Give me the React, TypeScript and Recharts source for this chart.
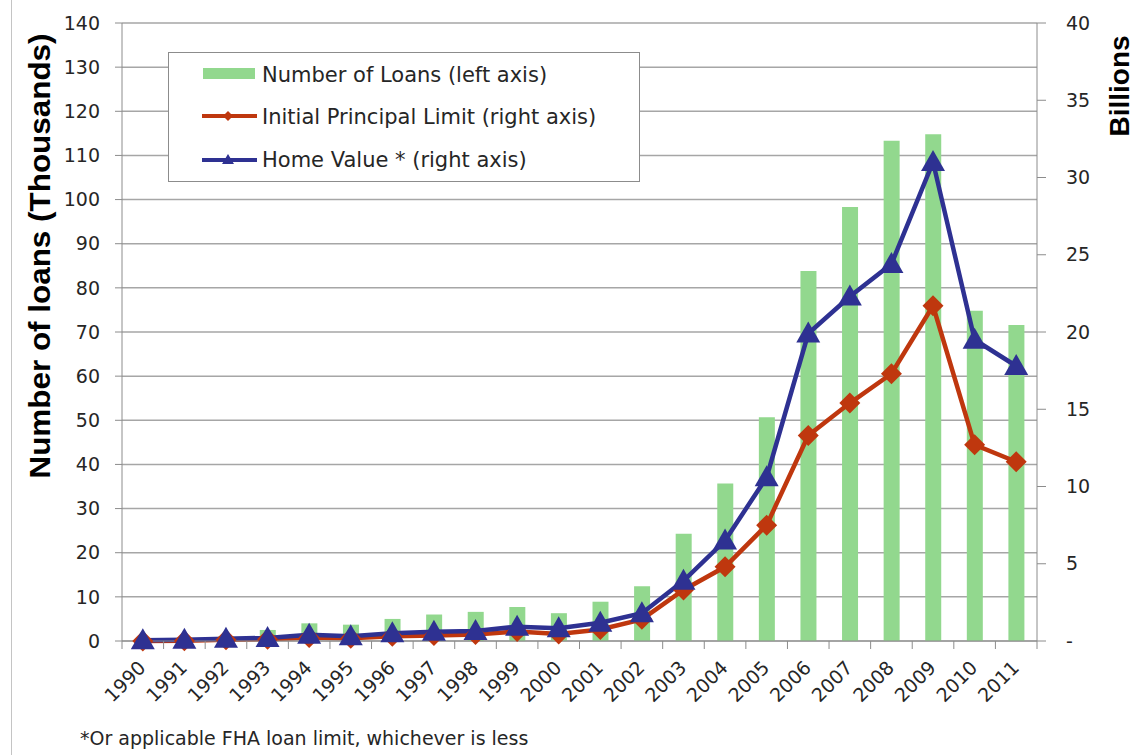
import * as React from "react"
import {
  ComposedChart, Bar, Line, XAxis, YAxis, CartesianGrid
} from "recharts"

const years = [
  "1990", "1991", "1992", "1993", "1994", "1995", "1996", "1997", "1998", "1999", "2000",
  "2001", "2002", "2003", "2004", "2005", "2006", "2007", "2008", "2009", "2010", "2011",
]
// thousands of loans (left axis)
const loans = [0.1, 0.4, 1.0, 2.5, 4.0, 3.7, 5.0, 6.0, 6.6, 7.7, 6.3, 8.9, 12.4, 24.3, 35.7, 50.7, 83.8, 98.3, 113.3, 114.8, 74.8, 71.6]
// billions (right axis)
const principal = [0.0, 0.02, 0.08, 0.12, 0.22, 0.18, 0.3, 0.35, 0.42, 0.62, 0.45, 0.75, 1.4, 3.3, 4.8, 7.5, 13.3, 15.4, 17.3, 21.7, 12.7, 11.6]
const homeValue = [0.05, 0.08, 0.15, 0.2, 0.4, 0.3, 0.5, 0.6, 0.65, 0.93, 0.82, 1.18, 1.8, 3.9, 6.5, 10.6, 19.9, 22.3, 24.4, 31.0, 19.5, 17.8]

const leftTicks = [0, 10, 20, 30, 40, 50, 60, 70, 80, 90, 100, 110, 120, 130, 140]
const rightTicks = [0, 5, 10, 15, 20, 25, 30, 35, 40]
const legendLabels = ["Number of Loans (left axis)", "Initial Principal Limit (right axis)", "Home Value * (right axis)"]

const GREEN = "#92d88e"
const RED = "#bf370e"
const BLUE = "#2e3192"
const FONT = "'DejaVu Sans', Verdana, sans-serif"
const TXT = "#262626"

const data = years.map((y, i) => ({
  year: y, loans: loans[i], principal: principal[i], homeValue: homeValue[i],
}))

function Diamond(props: any) {
  const { cx, cy } = props
  if (cx == null || cy == null) return null
  const r = 10.5
  return <polygon points={`${cx},${cy - r} ${cx + r},${cy} ${cx},${cy + r} ${cx - r},${cy}`} fill={RED} />
}

function Triangle(props: any) {
  const { cx, cy } = props
  if (cx == null || cy == null) return null
  return <polygon points={`${cx},${cy - 12} ${cx + 12},${cy + 9} ${cx - 12},${cy + 9}`} fill={BLUE} />
}

function YearTick(props: any) {
  const { x, y, payload, index } = props
  const off = payload.offset || 20.8
  return (
    <g>
      <line x1={x - off} x2={x - off} y1={y} y2={y + 8} stroke="#8c8c8c" />
      {index === years.length - 1 && <line x1={x + off} x2={x + off} y1={y} y2={y + 8} stroke="#8c8c8c" />}
      <text x={x + 4} y={y + 28} transform={`rotate(-45 ${x + 4} ${y + 28})`} textAnchor="end"
        fontFamily={FONT} fontSize={19} fill={TXT}>{payload.value}</text>
    </g>
  )
}

function LegendBox() {
  return (
    <svg width={473} height={131} style={{ position: "absolute", left: 168, top: 52, display: "block" }}>
      <rect x={0.5} y={0.5} width={471} height={129} fill="#fff" stroke="#8c8c8c" />
      <rect x={35} y={16} width={52} height={11} fill={GREEN} />
      <line x1={34} x2={89} y1={64} y2={64} stroke={RED} strokeWidth={4} />
      <polygon points="60,59 65,64 60,69 55,64" fill={RED} />
      <line x1={34} x2={89} y1={108} y2={108} stroke={BLUE} strokeWidth={4} />
      <polygon points="60,102 66,112 54,112" fill={BLUE} />
      <g fontFamily={FONT} fontSize={21} fill={TXT}>
        <text x={94} y={30}>{legendLabels[0]}</text>
        <text x={94} y={72}>{legendLabels[1]}</text>
        <text x={94} y={115}>{legendLabels[2]}</text>
      </g>
    </svg>
  )
}

export default function App() {
  return (
    <div style={{ position: "absolute", left: 0, top: 0, width: 1137, height: 755, background: "#fff" }}>
      <div style={{ position: "absolute", left: 11, top: 0, width: 1, height: 755, background: "#c4c4c4" }} />
      <ComposedChart width={1137} height={755} data={data} margin={{ top: 23, right: 0, bottom: 0, left: 0 }}>
        <CartesianGrid yAxisId="left" vertical={false} stroke="#a6a6a6" strokeWidth={1.5} />
        <XAxis dataKey="year" height={114} tick={<YearTick />} tickLine={false} tickSize={0} tickMargin={0}
          interval={0} axisLine={{ stroke: "#8c8c8c" }}
          label={{
            content: () => (
              <text x={80} y={745} fontFamily={FONT} fontSize={19} fill={TXT}>
                *Or applicable FHA loan limit, whichever is less
              </text>
            ),
          }} />
        <YAxis yAxisId="left" width={122} domain={[0, 140]} ticks={leftTicks} interval={0}
          tickSize={7} tickMargin={15} axisLine={{ stroke: "#8c8c8c" }} tickLine={{ stroke: "#8c8c8c" }}
          tick={{ fontFamily: FONT, fontSize: 19, fill: TXT }}
          label={{
            content: () => (
              <text x={50} y={256} transform="rotate(-90 50 256)" textAnchor="middle"
                fontFamily="'Liberation Sans', Arial, sans-serif" fontWeight="bold" fontSize={30} fill="#000"
                textLength={445} lengthAdjust="spacingAndGlyphs">
                Number of loans (Thousands)
              </text>
            ),
          }} />
        <YAxis yAxisId="right" orientation="right" width={100} domain={[0, 40]} ticks={rightTicks} interval={0}
          tickSize={9} tickMargin={20} axisLine={{ stroke: "#8c8c8c" }} tickLine={{ stroke: "#8c8c8c" }}
          tick={{ fontFamily: FONT, fontSize: 19, fill: TXT }}
          tickFormatter={(v: number) => (v === 0 ? "-" : String(v))}
          label={{
            content: () => (
              <text x={1129} y={86} transform="rotate(-90 1129 86)" textAnchor="middle"
                fontFamily="'Liberation Sans', Arial, sans-serif" fontWeight="bold" fontSize={28} fill="#000">
                Billions
              </text>
            ),
          }} />
        <Bar yAxisId="left" dataKey="loans" name={legendLabels[0]} fill={GREEN} barSize={16}
          isAnimationActive={false} />
        <Line yAxisId="right" dataKey="principal" name={legendLabels[1]} stroke={RED}
          strokeWidth={4.5} dot={<Diamond />} activeDot={false} isAnimationActive={false} />
        <Line yAxisId="right" dataKey="homeValue" name={legendLabels[2]} stroke={BLUE}
          strokeWidth={4.5} dot={<Triangle />} activeDot={false} isAnimationActive={false} />
      </ComposedChart>
      <LegendBox />
    </div>
  )
}
